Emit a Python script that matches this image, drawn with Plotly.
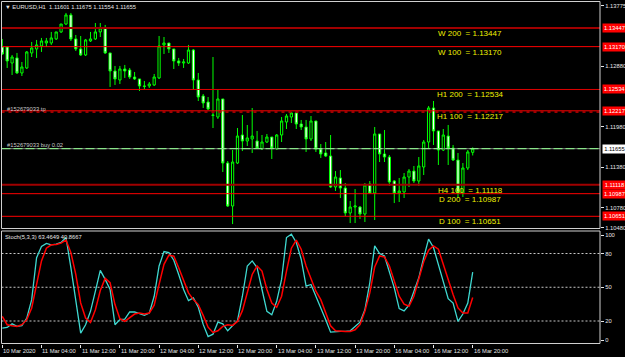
import plotly.graph_objects as go

# ---------------- data ----------------
bar_open = [1.13165, 1.13165, 1.12927, 1.13002, 1.12779, 1.12853, 1.13076, 1.13135, 1.13180, 1.13224,
            1.13224, 1.13284, 1.13388, 1.13506, 1.13640, 1.13284, 1.13135, 1.13046, 1.13254, 1.13284,
            1.13388, 1.13447, 1.13076, 1.12808, 1.12675, 1.12838, 1.12823, 1.12719, 1.12690, 1.12586,
            1.12586, 1.12601, 1.12705, 1.13195, 1.13224, 1.13135, 1.12957, 1.12927, 1.12927, 1.13120,
            1.12675, 1.12437, 1.12348, 1.12155, 1.12125, 1.12393, 1.11442, 1.10804, 1.11442, 1.11858,
            1.11769, 1.11799, 1.11769, 1.11650, 1.11754, 1.11828, 1.11650, 1.11858, 1.12051, 1.12125,
            1.12185, 1.12021, 1.11977, 1.11799, 1.12066, 1.11650, 1.11591, 1.11546, 1.11086, 1.11220,
            1.11071, 1.10700, 1.10789, 1.10789, 1.10685, 1.11131, 1.10997, 1.11873, 1.11576, 1.11531,
            1.11175, 1.10997, 1.11012, 1.11234, 1.11323, 1.11175, 1.11383, 1.11754, 1.12259, 1.11918,
            1.11635, 1.11843, 1.11665, 1.11487, 1.10997, 1.11368, 1.11601]
bar_high = [1.13284, 1.13180, 1.13046, 1.13076, 1.12942, 1.13105, 1.13239, 1.13269, 1.13299, 1.13299,
            1.13388, 1.13388, 1.13506, 1.13670, 1.13670, 1.13343, 1.13328, 1.13284, 1.13388, 1.13521,
            1.13521, 1.13492, 1.13076, 1.12883, 1.12883, 1.12898, 1.12853, 1.12794, 1.12690, 1.12660,
            1.12645, 1.12764, 1.13328, 1.13313, 1.13224, 1.13135, 1.13002, 1.12987, 1.13195, 1.13135,
            1.12779, 1.12467, 1.12422, 1.13016, 1.12541, 1.12393, 1.11472, 1.11635, 1.11962, 1.12155,
            1.12007, 1.12259, 1.11918, 1.11858, 1.11873, 1.11828, 1.11873, 1.12125, 1.12170, 1.12200,
            1.12200, 1.12081, 1.12081, 1.12140, 1.12066, 1.11724, 1.11754, 1.11858, 1.11323, 1.11338,
            1.11145, 1.10878, 1.11056, 1.10804, 1.11145, 1.11175, 1.11977, 1.11873, 1.11932, 1.11561,
            1.11190, 1.11220, 1.11294, 1.11353, 1.11398, 1.11531, 1.11784, 1.12289, 1.12363, 1.11918,
            1.11947, 1.12007, 1.11710, 1.11591, 1.11442, 1.11635, 1.11675]
bar_low = [1.13046, 1.12853, 1.12749, 1.12764, 1.12734, 1.12838, 1.13016, 1.13002, 1.13091, 1.13165,
           1.13195, 1.13269, 1.13373, 1.13492, 1.13254, 1.13105, 1.13031, 1.13031, 1.13239, 1.13269,
           1.13313, 1.13061, 1.12571, 1.12601, 1.12615, 1.12705, 1.12690, 1.12675, 1.12511, 1.12541,
           1.12556, 1.12586, 1.12690, 1.13061, 1.13076, 1.12838, 1.12883, 1.12853, 1.12912, 1.12526,
           1.12363, 1.12259, 1.12229, 1.11962, 1.12096, 1.11309, 1.10789, 1.10536, 1.11427, 1.11620,
           1.11695, 1.11591, 1.11650, 1.11635, 1.11739, 1.11502, 1.11635, 1.11754, 1.11947, 1.12036,
           1.11947, 1.11932, 1.11606, 1.11769, 1.11606, 1.11517, 1.11531, 1.11071, 1.11027, 1.10923,
           1.10655, 1.10551, 1.10551, 1.10611, 1.10566, 1.10982, 1.10596, 1.11457, 1.11457, 1.11101,
           1.10848, 1.10863, 1.10923, 1.11086, 1.11145, 1.11101, 1.11264, 1.11665, 1.11710, 1.11413,
           1.11620, 1.11413, 1.11472, 1.10923, 1.10938, 1.11338, 1.11554]
bar_close = [1.13061, 1.12957, 1.13016, 1.12779, 1.12868, 1.13091, 1.13150, 1.13195, 1.13254, 1.13254,
             1.13299, 1.13388, 1.13506, 1.13640, 1.13284, 1.13135, 1.13046, 1.13269, 1.13284, 1.13388,
             1.13447, 1.13076, 1.12808, 1.12690, 1.12838, 1.12808, 1.12719, 1.12690, 1.12586, 1.12580,
             1.12615, 1.12719, 1.13180, 1.13224, 1.13135, 1.12957, 1.12927, 1.12942, 1.13120, 1.12675,
             1.12422, 1.12333, 1.12244, 1.12150, 1.12393, 1.11442, 1.10804, 1.11457, 1.11843, 1.11769,
             1.11814, 1.11843, 1.11665, 1.11754, 1.11828, 1.11665, 1.11858, 1.12066, 1.12140, 1.12185,
             1.12021, 1.11977, 1.11799, 1.12066, 1.11650, 1.11576, 1.11546, 1.11086, 1.11234, 1.11071,
             1.10700, 1.10789, 1.10804, 1.10685, 1.11116, 1.10997, 1.11873, 1.11576, 1.11531, 1.11160,
             1.10997, 1.11027, 1.11234, 1.11323, 1.11175, 1.11398, 1.11754, 1.12259, 1.11918, 1.11635,
             1.11858, 1.11665, 1.11487, 1.10997, 1.11368, 1.11606, 1.11655]

stoch_main = [13.7, 14.3, 17.5, 15.2, 15.8, 22.6, 39.0, 76.3, 86.2, 88.9,
              87.7, 88.3, 89.8, 94.2, 67.4, 37.5, 9.2, 16.7, 28.6, 46.5,
              65.0, 57.0, 48.0, 16.7, 21.2, 21.7, 28.0, 28.0, 26.2, 25.0,
              27.0, 42.0, 68.9, 81.7, 80.8, 74.0, 61.4, 48.0, 38.1, 40.5,
              32.2, 17.0, 6.2, 8.3, 19.0, 17.5, 11.3, 15.8, 20.3, 42.0,
              68.9, 73.4, 67.4, 48.0, 28.6, 25.6, 37.5, 57.0, 94.2, 97.2,
              89.8, 74.9, 51.0, 52.5, 42.0, 33.1, 21.2, 10.1, 10.7, 10.7,
              10.7, 11.3, 15.2, 19.0, 30.0, 54.0, 86.8, 79.9, 77.8, 64.4,
              49.5, 31.0, 29.0, 34.0, 46.5, 58.4, 76.3, 92.8, 85.3, 70.4,
              55.4, 39.9, 36.0, 19.6, 26.2, 36.0, 63.4649]
stoch_signal = [24.1, 16.7, 15.8, 15.2, 16.7, 21.2, 31.6, 51.0, 73.4, 84.7,
                87.7, 88.0, 89.2, 91.9, 80.8, 61.4, 36.0, 22.6, 18.7, 30.0,
                47.1, 57.9, 54.0, 34.6, 22.0, 19.6, 23.2, 26.2, 27.1, 26.2,
                27.1, 34.0, 52.5, 70.4, 78.5, 77.6, 67.4, 55.4, 45.0, 39.0,
                34.6, 25.0, 14.5, 9.8, 11.3, 15.2, 16.7, 16.1, 19.6, 29.2,
                46.5, 61.4, 68.9, 64.4, 48.0, 36.0, 32.2, 42.0, 64.4, 84.7,
                91.9, 83.8, 68.9, 57.0, 46.5, 39.0, 27.1, 15.8, 11.3, 10.7,
                10.7, 10.7, 12.2, 16.7, 28.6, 45.0, 68.0, 77.8, 76.9, 68.9,
                55.4, 42.0, 35.0, 33.1, 42.0, 56.9, 72.7, 82.9, 86.8, 83.8,
                70.4, 55.4, 43.5, 31.6, 27.1, 27.1, 40.8667]

time_labels = ["10 Mar 2020", "11 Mar 04:00", "11 Mar 12:00", "11 Mar 20:00", "12 Mar 04:00",
               "12 Mar 12:00", "12 Mar 20:00", "13 Mar 04:00", "13 Mar 12:00", "13 Mar 20:00",
               "16 Mar 04:00", "16 Mar 12:00", "16 Mar 20:00"]
time_label_bars = [0, 8, 16, 24, 32, 40, 48, 56, 64, 72, 80, 88, 96]

level_names = ["W 200", "W 100", "H1 200", "H1 100", "H4 100", "D 200", "D 100"]
level_values = [1.13447, 1.13170, 1.12534, 1.12217, 1.11118, 1.10987, 1.10651]
level_colors = ["#a00000", "#ff0000", "#e00000", "#ff0000", "#a00000", "#ff0000", "#ff0000"]
level_widths = [2, 1, 1, 1, 2, 1, 1]

# price-scale labels that are not hidden behind the line tags
price_ticks = [1.10480, 1.10780, 1.11380, 1.11980, 1.12880, 1.13775]
stoch_levels = [20, 50, 80]
stoch_tick_vals = [3.1, 20, 50, 80, 96.4]
stoch_tick_text = ["0", "20", "50", "80", "100"]

order_id = "#152679033"
tp_price = 1.12200
buy_price = 1.11655
buy_lots = "0.02"
symbol = "EURUSD,H1"

# ---------------- layout helpers ----------------
W, H = 625, 357
def px(x):
    return x / W
def py(y):
    return 1 - y / H

X0, X1 = 1.5, 600
MAIN_TOP, MAIN_BOT = 1.5, 228.5
SUB_TOP, SUB_BOT = 231, 343.5
FONT = "Liberation Sans, Arial, sans-serif"
SMALL = 5.8
TXT = "#e6e6e6"

bars = list(range(len(bar_close)))

fig = go.Figure()
fig.add_trace(go.Candlestick(
    x=bars, open=bar_open, high=bar_high, low=bar_low, close=bar_close,
    increasing=dict(fillcolor="#000000", line=dict(color="#00ff00", width=1)),
    decreasing=dict(fillcolor="#ffffff", line=dict(color="#00ff00", width=1)),
    xaxis="x", yaxis="y", showlegend=False, hoverinfo="skip"))
fig.add_trace(go.Scatter(x=bars, y=stoch_main, mode="lines",
                         line=dict(color="#3fd8d0", width=1.3), xaxis="x2", yaxis="y2",
                         showlegend=False, hoverinfo="skip"))
fig.add_trace(go.Scatter(x=bars, y=stoch_signal, mode="lines",
                         line=dict(color="#ff0000", width=1.5), xaxis="x2", yaxis="y2",
                         showlegend=False, hoverinfo="skip"))

shapes = []
annotations = []

# horizontal level lines + labels + price tags
for name, val, col, wd in zip(level_names, level_values, level_colors, level_widths):
    shapes.append(dict(type="line", xref="paper", yref="y", x0=px(X0), x1=px(X1), y0=val, y1=val,
                       line=dict(color=col, width=wd), layer="above"))
    annotations.append(dict(xref="paper", yref="y", x=px(470), y=val, yshift=-5.5,
                            xanchor="center", yanchor="middle", showarrow=False,
                            text=f"{name}\u00a0 = {val:.5f}",
                            font=dict(family=FONT, size=8, color="#f0f000")))
    annotations.append(dict(xref="paper", yref="y", x=px(602), y=val, xanchor="left", yanchor="middle",
                            showarrow=False, text=f"{val:.5f}", bgcolor="#ff0000", borderpad=1,
                            width=21, font=dict(family=FONT, size=SMALL, color="#ffffff")))

# take-profit line (dashed) and buy line
shapes.append(dict(type="line", xref="paper", yref="y", x0=px(X0), x1=px(X1), y0=tp_price, y1=tp_price,
                   line=dict(color="#a00000", width=2, dash="3px,4px"), layer="above"))
shapes.append(dict(type="line", xref="paper", yref="y", x0=px(X0), x1=px(X1), y0=buy_price, y1=buy_price,
                   line=dict(color="#808080", width=1), layer="above"))
shapes.append(dict(type="line", xref="paper", yref="y", x0=px(X0), x1=px(X1), y0=buy_price, y1=buy_price,
                   line=dict(color="#90ff90", width=1, dash="9px,3px"), layer="above"))
annotations.append(dict(xref="paper", yref="y", x=px(602), y=buy_price, xanchor="left", yanchor="middle",
                        showarrow=False, text=f"{buy_price:.5f}", bgcolor="#ffffff", borderpad=1,
                        width=21, font=dict(family=FONT, size=SMALL, color="#000000")))
annotations.append(dict(xref="paper", yref="paper", x=px(5), y=py(108.5), xanchor="left", yanchor="middle",
                        showarrow=False, text=f"{order_id} tp",
                        font=dict(family=FONT, size=SMALL, color="#c8c8c8")))
annotations.append(dict(xref="paper", yref="paper", x=px(5), y=py(144.5), xanchor="left", yanchor="middle",
                        showarrow=False, text=f"{order_id} buy {buy_lots}",
                        font=dict(family=FONT, size=SMALL, color="#c8c8c8")))

# header texts
annotations.append(dict(xref="paper", yref="paper", x=px(3), y=py(6.5), xanchor="left", yanchor="middle",
                        showarrow=False,
                        text=f"\u25BC {symbol}\u00a0 {bar_open[-1]:.5f} {bar_high[-1]:.5f} "
                             f"{bar_low[-1]:.5f} {bar_close[-1]:.5f}",
                        font=dict(family=FONT, size=SMALL, color=TXT)))
annotations.append(dict(xref="paper", yref="paper", x=px(3), y=py(236.5), xanchor="left", yanchor="middle",
                        showarrow=False,
                        text=f"Stoch(5,3,3) {stoch_main[-1]:.4f} {stoch_signal[-1]:.4f}",
                        font=dict(family=FONT, size=SMALL, color=TXT)))

# stochastic level lines
for lv in stoch_levels:
    shapes.append(dict(type="line", xref="paper", yref="y2", x0=px(X0), x1=px(X1), y0=lv, y1=lv,
                       line=dict(color="#c8c8c8", width=1, dash="2px,2px"), layer="below"))

# time labels
for b, lab in zip(time_label_bars, time_labels):
    annotations.append(dict(xref="x2", yref="paper", x=b, y=py(345.5), xanchor="left", yanchor="top",
                            showarrow=False, text=lab, xshift=-1,
                            font=dict(family=FONT, size=SMALL, color=TXT)))

# frames
shapes.append(dict(type="rect", xref="paper", yref="paper", x0=px(X0), x1=px(X1),
                   y0=py(MAIN_BOT), y1=py(MAIN_TOP), line=dict(color="#d0d0d0", width=1), layer="above"))
shapes.append(dict(type="rect", xref="paper", yref="paper", x0=px(X0), x1=px(X1),
                   y0=py(SUB_BOT), y1=py(SUB_TOP), line=dict(color="#d0d0d0", width=1), layer="above"))

xrange = [-0.16, 121.98]
axis_common = dict(showgrid=False, zeroline=False, automargin=False, fixedrange=True)

fig.update_layout(
    template="none", width=W, height=H, margin=dict(l=0, r=0, t=0, b=0),
    paper_bgcolor="#000000", plot_bgcolor="#000000", showlegend=False, boxgap=0.35,
    xaxis=dict(domain=[px(X0), px(X1)], range=xrange, anchor="y", showticklabels=False, ticks="",
               rangeslider=dict(visible=False), showline=False, **axis_common),
    yaxis=dict(domain=[py(MAIN_BOT), py(MAIN_TOP)], range=[1.10470, 1.13840], anchor="x", side="right",
               tickvals=price_ticks, ticktext=[f"{v:.5f}" for v in price_ticks],
               ticks="outside", ticklen=3, tickcolor=TXT, showline=False,
               tickfont=dict(family=FONT, size=SMALL, color=TXT), **axis_common),
    xaxis2=dict(domain=[px(X0), px(X1)], range=xrange, anchor="y2", tickvals=time_label_bars,
                showticklabels=False, ticks="outside", ticklen=3, tickcolor=TXT, showline=False,
                **axis_common),
    yaxis2=dict(domain=[py(SUB_BOT), py(SUB_TOP)], range=[0, 100], anchor="x2", side="right",
                tickvals=stoch_tick_vals, ticktext=stoch_tick_text,
                ticks="outside", ticklen=3, tickcolor=TXT, showline=False,
                tickfont=dict(family=FONT, size=SMALL, color=TXT), **axis_common),
    shapes=shapes, annotations=annotations,
)

fig.write_html("out.html")
